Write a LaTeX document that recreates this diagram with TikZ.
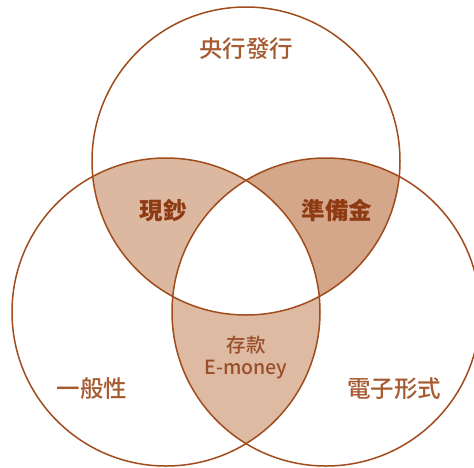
\documentclass[tikz,border=0pt]{standalone}
\usepackage{fontspec}
\setmainfont{Noto Sans CJK TC}
\newfontfamily\mediumcjk{Noto Sans CJK TC Medium}
\definecolor{rim}{HTML}{A04C1C}
\definecolor{cashfill}{HTML}{DDB8A0}
\definecolor{reservefill}{HTML}{D4A68A}
\definecolor{depositfill}{HTML}{DEBAA3}
\definecolor{darklabel}{HTML}{8E3A12}
\definecolor{lightlabel}{HTML}{A65A30}
\tikzset{
  ring/.style={draw=rim, line width=1.5pt},
  setlabel/.style={text=lightlabel, font=\mediumcjk\fontsize{23.5}{26}\selectfont},
  lenslabel/.style={text=darklabel, font=\fontsize{23.5}{26}\selectfont\bfseries},
  midlabel/.style={text=darklabel!90!white, font=\mediumcjk\fontsize{19.5}{24}\selectfont, align=center}
}
\begin{document}
\begin{tikzpicture}[x=1pt, y=-1pt]
\useasboundingbox (0,0) rectangle (474,467);
\clip (0,0) rectangle (474,467);
\fill[white] (0,0) rectangle (474,467);

% circle centres
\coordinate (top) at (246,161);
\coordinate (left) at (166,312);
\coordinate (right) at (326,312);

% shaded lenses
\begin{scope}
\clip (top) circle (154pt);
\fill[cashfill] (left) circle (154pt);
\fill[reservefill] (right) circle (154pt);
\end{scope}
\begin{scope}
\clip (left) circle (154pt);
\fill[depositfill] (right) circle (154pt);
\clip (right) circle (154pt);
\fill[white] (top) circle (154pt);
\end{scope}

\draw[ring] (top) circle (154pt);
\draw[ring] (left) circle (154pt);
\draw[ring] (right) circle (154pt);

% labels
\node[setlabel] (issuer) at (246,49) {央行發行};
\node[setlabel] (general) at (92,389) {一般性};
\node[setlabel] (digital) at (394,389) {電子形式};
\node[lenslabel] (cash) at (163,211) {現鈔};
\node[lenslabel] (reserve) at (337,211) {準備金};
\node[midlabel] (deposit) at (246,345) {存款};
\node[midlabel] (emoney) at (246,370) {E-money};
\end{tikzpicture}
\end{document}
